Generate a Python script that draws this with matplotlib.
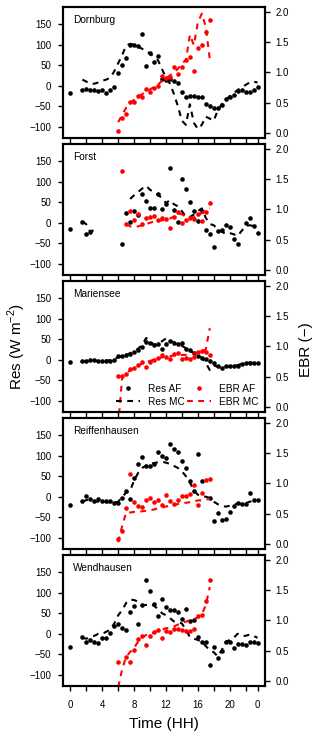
import matplotlib.pyplot as plt
import numpy as np

nan = np.nan

plt.rcParams['font.family'] = ['Liberation Sans', 'DejaVu Sans']
plt.rcParams['mathtext.fontset'] = 'custom'
plt.rcParams['mathtext.rm'] = 'Liberation Sans'

# half-hourly time of day (HH)
hours = np.arange(48) * 0.5
sites = ['Dornburg', 'Forst', 'Mariensee', 'Reiffenhausen', 'Wendhausen']

# residual (W m-2), AF = dots, MC = dashed
dornburg_res_af = [-17, nan, nan, -11, -9, -11, -11, -12, -11, -17, -11, -2,
                   32, 50, 68, 100, 100, 97, 125, 47, 79, 57, 72, 16,
                   15, 17, 12, 7, -15, -27, -24, -24, -27, -28, -45, -50,
                   -53, -55, -48, -33, -27, -22, -13, -11, -15, -15, -11, -2]
dornburg_res_mc = [nan, nan, nan, 15, 10, 5, 5, 8, 12, 15, 20, 35,
                   55, 75, 98, 102, 100, 95, 90, 85, 78, 70, 62, 40,
                   20, 5, -20, -50, -85, -95, -45, -90, -105, -95, -75, -80,
                   -85, -60, -45, -35, -25, -18, -10, -5, 2, 8, 10, 8]
forst_res_af = [-16, nan, nan, 2, -28, -23, nan, nan, nan, nan, nan, nan,
                nan, -51, 23, 3, 29, 19, 70, 53, 36, 36, 69, 33,
                45, 133, 31, 2, 107, 81, 50, 28, 4, 29, -18, -28,
                -60, -19, -18, -5, -11, -40, -51, nan, -1, 12, -8, -26]
forst_res_mc = [nan, nan, nan, 4, -4, -22, -17, nan, nan, nan, nan, nan,
                nan, nan, nan, 58, 67, 75, 83, 90, 80, 75, 68, 60,
                48, 55, 45, 40, 28, 15, 14, 20, 28, 35, 12, -3,
                -6, -15, -22, -27, -25, -28, -32, -20, -8, -6, -8, -12]
mariensee_res_af = [-5, nan, nan, -2, -2, -1, -1, -2, -2, -2, -2, -1,
                    8, 8, 11, 14, 20, 24, 31, 43, 41, 37, 38, 26,
                    39, 45, 41, 39, 41, 27, 24, 16, 8, 4, 2, -4,
                    -7, -16, -19, -16, -16, -15, -15, -11, -8, -7, -7, -7]
mariensee_res_mc = [nan, nan, nan, -5, -3, -2, -2, -3, -3, -2, -1, 2,
                    6, 9, 12, 16, 21, 27, 36, 53, 45, 36, 40, 45,
                    52, 46, 42, 38, 34, 28, 22, 16, 10, 5, -8, -25,
                    -14, -17, -18, -17, -16, -15, -13, -10, -8, -7, -7, -6]
reiffenhausen_res_af = [-19, nan, nan, -10, 2, -5, -11, -6, -10, -11, -11, -14,
                        -16, -3, 15, -6, 45, 79, 96, 74, 75, 79, 108, 98,
                        94, 128, 116, 108, 87, 69, 38, 13, 104, 39, nan, -2,
                        -58, -40, -56, -53, -36, -23, -15, -17, -18, 8, -7, -7]
reiffenhausen_res_mc = [nan, nan, nan, -12, -8, -8, -12, -12, -12, -13, -14, -14,
                        -12, 0, 10, 15, 40, 58, 70, 76, 80, 82, 84, 85,
                        83, 80, 75, 70, 62, 50, 35, 15, 5, 2, 0, -3,
                        -12, -18, -22, -24, -22, -19, -17, -16, -16, -12, -10, -8]
wendhausen_res_af = [-33, nan, nan, -9, -20, -15, -19, -23, -11, -11, 3, 18,
                     24, 15, 9, 53, 68, 24, 71, 130, 104, 72, 44, 85,
                     64, 57, 57, 53, 36, 61, 32, 33, -8, -19, -21, -76,
                     -31, -58, -43, -19, -21, -35, -24, -24, -28, -21, -19, -23]
wendhausen_res_mc = [nan, nan, nan, -10, -12, -8, -5, 0, 0, 5, 10, 25,
                     45, 58, 75, 83, 82, 78, 70, 70, 72, 68, 60, 50,
                     45, 38, 30, 28, 25, 10, -8, -12, -15, -20, -30, -40,
                     -45, -55, -40, -20, -15, -10, 0, -5, -5, -2, -5, -10]

# energy balance ratio (-), daytime only (06:00 - 17:30)
dornburg_ebr_af = [0.03, 0.24, 0.32, 0.51, 0.51, 0.61, 0.59, 0.72, 0.67, 0.74, 0.78, 0.94,
                   0.91, 0.93, 1.09, 0.98, 1.09, 1.21, 1.25, 1.02, 1.40, 1.45, 1.66, 1.86]
dornburg_ebr_mc = [0.18, 0.30, 0.42, 0.50, 0.55, 0.60, 0.64, 0.68, 0.72, 0.76, 0.80, 0.86,
                   0.90, 0.95, 1.00, 1.06, 1.15, 1.20, 1.62, 1.45, 1.82, 1.97, 1.75, 1.22]
forst_ebr_af = [nan, 1.63, 0.76, 0.98, 0.83, 0.93, 0.76, 0.86, 0.87, 0.89, 0.83, 0.86,
                0.84, 0.69, 0.87, 0.96, 0.77, 0.83, 0.86, 0.84, 0.93, 0.81, 0.95, 1.10]
forst_ebr_mc = [nan, nan, 0.76, 0.72, 0.71, 0.72, 0.74, 0.76, 0.78, 0.80, 0.81, 0.82,
                0.83, 0.85, 0.88, 0.93, 0.92, 0.88, 0.86, 0.87, 0.90, 0.94, 1.00, 1.02]
mariensee_ebr_af = [0.52, 0.52, 0.54, 0.62, 0.64, 0.69, 0.75, 0.66, 0.75, 0.78, 0.81, 0.86,
                    0.83, 0.79, 0.87, 0.89, 0.80, 0.81, 0.80, 0.83, 0.90, 0.92, 0.90, 0.85]
mariensee_ebr_mc = [-0.30, 0.50, 0.56, 0.60, 0.64, 0.68, 0.72, 0.74, 0.76, 0.78, 0.80, 0.82,
                    0.83, 0.84, 0.85, 0.86, 0.86, 0.86, 0.87, 0.88, 0.90, 0.92, 0.95, 1.30]
reiffenhausen_ebr_af = [0.08, 0.22, 0.60, 1.16, 0.69, 0.62, 0.61, 0.73, 0.76, 0.69, 0.72, 0.65,
                        0.81, 0.71, 0.66, 0.73, 0.80, 0.80, 0.83, 0.97, 0.65, 0.84, 1.06, 1.08]
reiffenhausen_ebr_mc = [0.03, 0.30, 0.52, 0.52, 0.53, 0.53, 0.54, 0.55, 0.56, 0.57, 0.59, 0.60,
                        0.62, 0.63, 0.64, 0.66, 0.68, 0.68, 0.69, 0.70, 0.72, 0.72, 0.73, 0.75]
wendhausen_ebr_af = [0.32, nan, 0.39, 0.31, 0.52, 0.69, 0.74, 0.60, 0.74, 0.81, 0.84, 0.71,
                     0.83, 0.81, 0.85, 0.85, 0.84, 0.82, 0.83, 0.86, 1.07, 1.09, 1.32, 1.67]
wendhausen_ebr_mc = [-0.10, 0.20, 0.40, 0.48, 0.55, 0.65, 0.72, 0.76, 0.78, 0.80, 0.83, 0.85,
                     0.87, 0.88, 0.90, 0.93, 0.96, 0.98, 1.00, 1.02, 1.05, 1.10, 1.25, 1.55]

res_af = [dornburg_res_af, forst_res_af, mariensee_res_af, reiffenhausen_res_af, wendhausen_res_af]
res_mc = [dornburg_res_mc, forst_res_mc, mariensee_res_mc, reiffenhausen_res_mc, wendhausen_res_mc]
ebr_af = [dornburg_ebr_af, forst_ebr_af, mariensee_ebr_af, reiffenhausen_ebr_af, wendhausen_ebr_af]
ebr_mc = [dornburg_ebr_mc, forst_ebr_mc, mariensee_ebr_mc, reiffenhausen_ebr_mc, wendhausen_ebr_mc]
day_hours = hours[12:36]

xticks = [0, 2, 4, 6, 8, 10, 12, 14, 16, 18, 20, 22, 23.5]
xticklabels = ['0', '', '4', '', '8', '', '12', '', '16', '', '20', '', '0']

W, H = 320, 738
fig = plt.figure(figsize=(W / 100, H / 100), dpi=100)

left, width = 63 / W, 202 / W
for i, site in enumerate(sites):
    top = 6.9 + 137 * i
    ax = fig.add_axes([left, 1 - (top + 131) / H, width, 131 / H])
    ax2 = ax.twinx()

    ax.plot(hours, res_mc[i], color='black', lw=1.5, dashes=(2.8, 2.6))
    ax.plot(hours, res_af[i], 'o', color='black', ms=3.3, mew=0)
    ax2.plot(day_hours, ebr_mc[i], color='red', lw=1.5, dashes=(2.8, 2.6))
    ax2.plot(day_hours, ebr_af[i], 'o', color='red', ms=3.3, mew=0)

    ax.set_xlim(-0.94, 24.44)
    ax.set_ylim(-126.8, 191.8)
    ax2.set_ylim(-0.08, 2.08)
    ax.set_yticks([-100, -50, 0, 50, 100, 150])
    ax2.set_yticks([0, 0.5, 1, 1.5, 2])
    ax2.set_yticklabels(['0.0', '0.5', '1.0', '1.5', '2.0'])
    ax.set_xticks(xticks)
    ax.set_xticklabels(xticklabels)

    ax.tick_params(axis='y', direction='out', length=3.6, width=1, labelsize=7, pad=5)
    ax2.tick_params(axis='y', direction='out', length=3.6, width=1, labelsize=7, pad=4)
    ax.tick_params(axis='x', direction='out', length=3.6, width=1, labelsize=7, pad=6.5,
                   labelbottom=(i == len(sites) - 1))
    for a in (ax, ax2):
        for s in a.spines.values():
            s.set_linewidth(1.5)

    ax.text(0.05, 0.897, site, transform=ax.transAxes, ha='left', va='center', fontsize=7.3)

    if site == 'Mariensee':
        h1, = ax.plot([], [], 'o', color='black', ms=3.3, mew=0)
        h2, = ax.plot([], [], color='black', lw=1.5, dashes=(2.8, 2.6))
        h3, = ax.plot([], [], 'o', color='red', ms=3.3, mew=0)
        h4, = ax.plot([], [], color='red', lw=1.5, dashes=(2.8, 2.6))
        ax2.legend([h1, h2, h3, h4], ['Res AF', 'Res MC', 'EBR AF', 'EBR MC'],
                   ncol=2, frameon=False, fontsize=7.3, loc='lower right',
                   bbox_to_anchor=(0.97, 0.04), borderpad=0, borderaxespad=0,
                   handlelength=2.4, handletextpad=0.8, columnspacing=0.2,
                   labelspacing=0.3)

fig.text(17 / W, 1 - 347 / H, 'Res (W m$^{-2}$)', rotation=90, ha='center', va='center', fontsize=11)
fig.text(306 / W, 1 - 350 / H, 'EBR (\u2212)', rotation=90, ha='center', va='center', fontsize=11)
fig.text(164 / W, 1 - 724 / H, 'Time (HH)', ha='center', va='center', fontsize=11)

plt.savefig('out.png', dpi=100)
